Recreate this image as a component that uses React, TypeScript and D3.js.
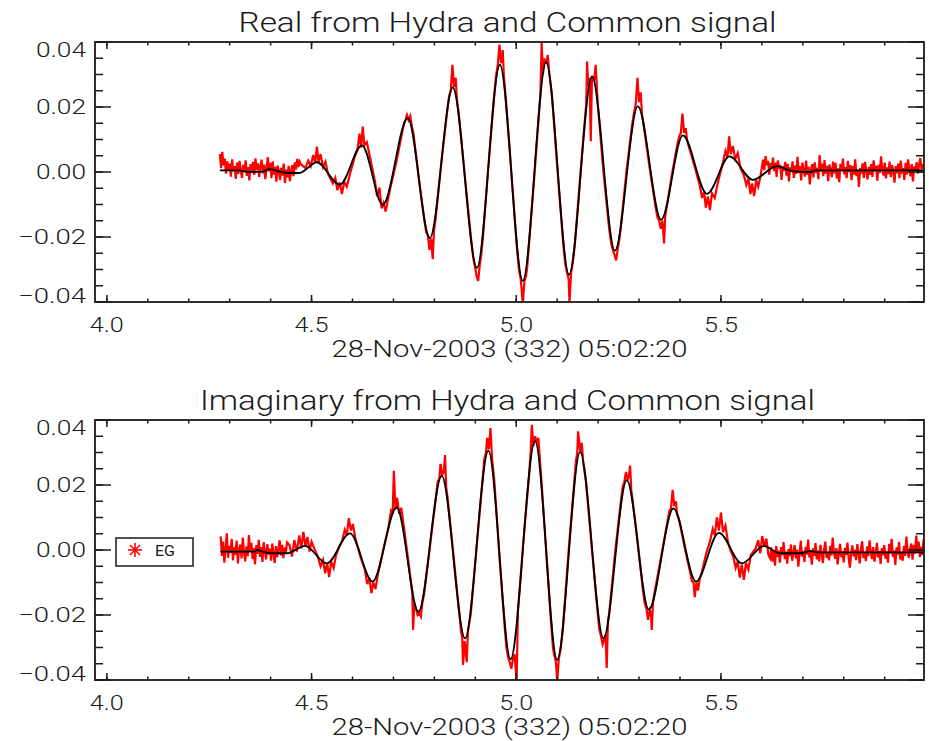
import React from "react";
import * as d3 from "d3";

const W = 929;
const H = 741;

// ---------- axis / text data ----------
const xDomain: [number, number] = [3.971, 5.996];
const yDomain: [number, number] = [-0.04, 0.04];
const xMajor = [4.0, 4.5, 5.0, 5.5];
const xTickLabels = ["4.0", "4.5", "5.0", "5.5"];
const yMajor = [-0.04, -0.02, 0.0, 0.02, 0.04];
const yTickLabels = ["\u22120.04", "\u22120.02", "0.00", "0.02", "0.04"];
const titles = ["Real from Hydra and Common signal", "Imaginary from Hydra and Common signal"];
const xTitle = "28-Nov-2003 (332) 05:02:20";
const legendLabel = "EG";

// ---------- Real (top) ----------
const blackReal: [number, number][] = [
  [4.276, 0.0005], [4.32, 0.0005], [4.345, 0.0], [4.38, 0.0001], [4.398, 0.0009], [4.42, 0.0002],
  [4.445, -0.0003], [4.47, -0.0003], [4.513, 0.003], [4.569, -0.0039], [4.623, 0.0082], [4.674, -0.0101],
  [4.735, 0.0166], [4.789, -0.0203], [4.845, 0.026], [4.904, -0.0295], [4.96, 0.033], [5.016, -0.0335],
  [5.073, 0.0338], [5.129, -0.0316], [5.185, 0.0294], [5.241, -0.0242], [5.297, 0.0202], [5.354, -0.0147],
  [5.407, 0.0113], [5.466, -0.0067], [5.521, 0.0048], [5.578, -0.0024], [5.637, 0.0018], [5.676, 0.0002],
  [5.72, 0.0], [5.73, 0.0005], [5.995, 0.0005],
];
const noiseStep = 0.003;
const redRealLeftStart = 4.276;
const redRealLeftNoise = [ // 1e-3 units
  5.5, 1.2, 6.2, 2.0, 4.1, -0.5, 3.3, 0.8, 2.6, -1.4, 3.9, 0.2, 1.8, -2.1, 2.9, -0.6, 3.4, 0.5, -1.8, 2.2,
  0.1, 3.6, -1.2, 1.5, -2.6, 2.4, 0.3, 3.1, -0.9, 4.2, 0.6, 2.7, -1.5, 1.9, 3.8, -0.4, 2.3, -2.2, 1.1, 4.6,
  0.2, 2.8, -1.9, 3.3, -0.8, 1.6, -3.0, 2.0, 0.4, -2.5, 1.3, -1.1, 2.6, -3.4, 0.7, -1.6, 1.9, -2.8, 0.3, 2.1,
  -1.3, 3.0, 0.8, 4.0, 1.5, 3.2, 2.4,
];
const redRealMid: [number, number][] = [
  [4.485, 0.0012], [4.492, 0.0035], [4.498, 0.0018], [4.504, 0.0052], [4.509, 0.0028], [4.513, 0.0078],
  [4.517, 0.0031], [4.522, 0.0055], [4.528, 0.0015], [4.534, 0.0032], [4.54, -0.0005],
  [4.552, -0.0035], [4.558, -0.0018], [4.563, -0.0056], [4.569, -0.0032], [4.574, -0.0068], [4.58, -0.003],
  [4.586, -0.0045], [4.594, -0.0005],
  [4.605, 0.0045], [4.612, 0.0068], [4.617, 0.0118], [4.621, 0.0075], [4.625, 0.014], [4.629, 0.0082],
  [4.635, 0.0092], [4.642, 0.005],
  [4.655, -0.003], [4.66, -0.0075], [4.666, -0.0048], [4.671, -0.0112], [4.676, -0.0095], [4.681, -0.0122],
  [4.687, -0.0082], [4.694, -0.004],
  [4.707, 0.003], [4.721, 0.012], [4.726, 0.015], [4.73, 0.0162], [4.733, 0.0176], [4.737, 0.016], [4.741, 0.0172], [4.745, 0.014], [4.749, 0.0118],
  [4.762, -0.002], [4.775, -0.0145], [4.78, -0.0185], [4.784, -0.0195], [4.788, -0.024], [4.792, -0.0205], [4.796, -0.0268], [4.799, -0.018], [4.803, -0.0145],
  [4.817, 0.003], [4.831, 0.0185], [4.836, 0.0235], [4.84, 0.025], [4.844, 0.033], [4.848, 0.0262], [4.852, 0.029], [4.855, 0.0225], [4.859, 0.0185],
  [4.875, -0.002], [4.89, -0.021], [4.895, -0.0265], [4.899, -0.029], [4.903, -0.032], [4.907, -0.0335], [4.911, -0.0285], [4.914, -0.026], [4.918, -0.021],
  [4.932, 0.002], [4.946, 0.0235], [4.951, 0.03], [4.955, 0.033], [4.959, 0.0392], [4.963, 0.0335], [4.967, 0.0375], [4.97, 0.029], [4.974, 0.0235],
  [4.988, 0.0], [5.002, -0.024], [5.007, -0.0305], [5.011, -0.033], [5.016, -0.0405], [5.02, -0.0335], [5.024, -0.032], [5.027, -0.029], [5.03, -0.024],
  [5.045, 0.0], [5.059, 0.024], [5.062, 0.0398], [5.065, 0.03], [5.069, 0.0345], [5.073, 0.0338], [5.077, 0.036], [5.081, 0.03], [5.087, 0.024],
  [5.101, 0.0], [5.115, -0.0225], [5.12, -0.0285], [5.124, -0.031], [5.128, -0.033], [5.13, -0.04], [5.134, -0.031], [5.138, -0.028], [5.143, -0.0225],
  [5.157, 0.0], [5.171, 0.021], [5.173, 0.034], [5.176, 0.0265], [5.179, 0.029], [5.182, 0.0095], [5.185, 0.0295], [5.19, 0.028], [5.194, 0.033], [5.199, 0.021],
  [5.213, 0.0], [5.227, -0.0175], [5.232, -0.022], [5.236, -0.024], [5.24, -0.0255], [5.244, -0.0272], [5.248, -0.0235], [5.251, -0.0215], [5.255, -0.0175],
  [5.269, 0.0], [5.283, 0.0145], [5.288, 0.0185], [5.292, 0.021], [5.296, 0.029], [5.3, 0.0215], [5.304, 0.0245], [5.307, 0.018], [5.311, 0.0145],
  [5.325, 0.002], [5.34, -0.0105], [5.345, -0.014], [5.349, -0.015], [5.353, -0.0175], [5.357, -0.015], [5.361, -0.022], [5.364, -0.0135], [5.368, -0.0105],
  [5.38, -0.001], [5.393, 0.0082], [5.398, 0.011], [5.402, 0.012], [5.406, 0.018], [5.41, 0.012], [5.414, 0.0135], [5.417, 0.01], [5.421, 0.008],
  [5.435, 0.002], [5.448, -0.004], [5.454, -0.008], [5.459, -0.006], [5.463, -0.011], [5.468, -0.0075], [5.473, -0.0117],
  [5.478, -0.0065], [5.485, -0.008], [5.492, -0.0035],
  [5.505, 0.003], [5.511, 0.0065], [5.516, 0.0045], [5.52, 0.011], [5.524, 0.0055], [5.529, 0.008], [5.535, 0.004],
  [5.541, 0.0058], [5.548, 0.001],
  [5.556, -0.001], [5.562, -0.004], [5.567, -0.002], [5.572, -0.0068], [5.576, -0.0035], [5.581, -0.0074],
  [5.586, -0.0025], [5.591, -0.0045], [5.597, -0.001],
];
const redRealRightStart = 5.6;
const redRealRightNoise = [
  1.5, 3.8, 0.6, 4.9, 2.1, 3.4, -0.8, 2.7, 1.2, 4.4, 0.3, 2.9, -1.5, 3.6, 1.0, 2.2, -2.4, 1.7, 0.4, 3.1,
  -1.1, 2.5, -2.9, 1.4, 0.2, 3.3, -1.8, 2.0, -0.6, 4.7, -0.3, 1.8, -2.6, 2.9, 0.5, -1.4, 3.5, -0.9, 1.6, -3.8,
  0.8, 2.4, -1.7, 3.0, -0.2, 1.3, -2.2, 5.2, 0.1, 2.6, -1.3, 3.7, -0.5, 1.9, -2.8, 2.3, 0.7, -1.6, 3.2, -0.4,
  2.8, -2.0, 1.1, -3.1, 2.5, 0.3, 4.1, -0.7, 1.5, -1.9, 3.4, 0.0, 2.1, -2.5, 1.8, -0.8, 3.9, -1.2, 0.6, -4.6,
  1.2, -0.5, 2.7, -1.8, 3.1, 0.4, -2.3, 1.6, -0.9, 2.4, -1.5, 3.6, 0.2, 1.9, -2.7, 2.2, -0.3, 4.8, 0.9, -1.1,
  2.9, -2.0, 1.4, -0.6, 3.2, -1.6, 2.1, 0.5, -3.3, 1.8, -0.4, 2.6, -1.9, 3.5, 0.3, 1.2, -2.4, 2.8, -0.8, 3.9,
  1.0, -1.3, 2.4, -2.9, 1.7, 0.6, 3.0, -0.5, 2.2, 4.3, 0.8, 2.5,
];

// ---------- Imaginary (bottom) ----------
const blackImag: [number, number][] = [
  [4.278, -0.0005], [4.36, -0.0005], [4.368, 0.0], [4.38, -0.0005], [4.405, -0.001], [4.44, -0.001],
  [4.484, 0.0013], [4.537, -0.0041], [4.594, 0.0051], [4.649, -0.0097], [4.708, 0.0131], [4.761, -0.019],
  [4.818, 0.0228], [4.875, -0.0272], [4.932, 0.0306], [4.986, -0.0336], [5.046, 0.0336], [5.1, -0.0338],
  [5.156, 0.0302], [5.213, -0.0272], [5.27, 0.0215], [5.324, -0.0183], [5.384, 0.0128], [5.439, -0.0097],
  [5.495, 0.0053], [5.551, -0.0041], [5.605, 0.0012], [5.645, -0.001], [5.695, -0.001], [5.718, -0.0003],
  [5.735, -0.0007], [5.995, -0.0007],
];
const redImagLeftStart = 4.278;
const redImagLeftNoise = [
  4.2, -1.8, 2.6, -3.9, 0.5, 5.1, -2.4, 1.3, -0.9, 3.4, -3.2, 0.8, -1.5, 2.9, -4.1, 0.2, 1.7, -2.6, 3.8, -0.7,
  -3.5, 1.1, -1.9, 4.6, -0.3, 2.2, -2.8, 0.6, -4.4, 1.5, -1.2, 3.1, -2.1, 0.9, -3.7, 2.4, -0.5, -2.9, 1.8, -1.4,
  0.4, -3.3, 2.0, -1.0, -4.0, 1.2, -2.2, 0.3, 3.0, -1.7, 1.6, -2.5, 0.7, -0.9, 2.3,
];
const redImagMid: [number, number][] = [
  [4.446, 0.0015], [4.452, -0.002], [4.458, 0.003], [4.464, -0.0005], [4.47, 0.0045], [4.475, 0.0005],
  [4.48, 0.0056], [4.485, 0.0012], [4.49, 0.004], [4.495, -0.0005], [4.5, 0.0025],
  [4.508, 0.0], [4.515, -0.002], [4.522, -0.005], [4.528, -0.003], [4.533, -0.0072], [4.538, -0.004], [4.543, -0.0083],
  [4.548, -0.0035], [4.554, -0.0055], [4.56, -0.0015],
  [4.567, 0.0008], [4.575, 0.003], [4.581, 0.0062], [4.586, 0.0045], [4.591, 0.0098], [4.596, 0.006], [4.601, 0.008], [4.607, 0.0035],
  [4.619, -0.002], [4.63, -0.006], [4.636, -0.0105], [4.641, -0.0085], [4.646, -0.0133], [4.651, -0.01], [4.656, -0.012], [4.662, -0.0075],
  [4.675, 0.0], [4.688, 0.007], [4.694, 0.012], [4.698, 0.011], [4.701, 0.0244], [4.705, 0.0125], [4.709, 0.016], [4.714, 0.0112],
  [4.719, 0.013], [4.724, 0.0085],
  [4.735, -0.002], [4.746, -0.013], [4.748, -0.0246], [4.751, -0.0165], [4.755, -0.018], [4.759, -0.02], [4.763, -0.0195],
  [4.767, -0.0205], [4.771, -0.016], [4.775, -0.0135],
  [4.79, 0.002], [4.804, 0.0165], [4.808, 0.021], [4.812, 0.022], [4.815, 0.0265], [4.819, 0.0232], [4.823, 0.024], [4.826, 0.0292], [4.829, 0.019], [4.832, 0.0165],
  [4.847, -0.002], [4.861, -0.0195], [4.865, -0.025], [4.868, -0.027], [4.87, -0.0354], [4.874, -0.028], [4.879, -0.0345], [4.882, -0.025], [4.889, -0.0195],
  [4.904, 0.002], [4.918, 0.022], [4.922, 0.028], [4.926, 0.03], [4.929, 0.0345], [4.933, 0.031], [4.937, 0.0375], [4.941, 0.028], [4.946, 0.022],
  [4.959, -0.002], [4.972, -0.024], [4.976, -0.03], [4.98, -0.033], [4.984, -0.0345], [4.988, -0.0365], [4.992, -0.0335], [4.996, -0.032], [5.001, -0.0405], [5.004, -0.019],
  [5.017, 0.002], [5.032, 0.024], [5.035, 0.03], [5.038, 0.0385], [5.042, 0.032], [5.046, 0.035], [5.05, 0.033], [5.054, 0.0345], [5.06, 0.024],
  [5.073, 0.0], [5.086, -0.024], [5.09, -0.0305], [5.094, -0.033], [5.097, -0.0345], [5.1, -0.0405], [5.104, -0.0335], [5.109, -0.03], [5.114, -0.024],
  [5.128, 0.0], [5.142, 0.0215], [5.146, 0.0275], [5.149, 0.03], [5.151, 0.0365], [5.156, 0.0305], [5.16, 0.033], [5.164, 0.0265], [5.17, 0.0215],
  [5.185, 0.0], [5.199, -0.0195], [5.203, -0.0245], [5.207, -0.0265], [5.211, -0.029], [5.215, -0.0275], [5.218, -0.026], [5.221, -0.0363], [5.224, -0.022], [5.227, -0.0195],
  [5.242, 0.0], [5.256, 0.0155], [5.26, 0.0195], [5.264, 0.021], [5.268, 0.024], [5.272, 0.0218], [5.275, 0.0225], [5.278, 0.026], [5.281, 0.0185], [5.284, 0.0155],
  [5.297, 0.002], [5.31, -0.013], [5.314, -0.0165], [5.318, -0.018], [5.322, -0.0215], [5.326, -0.0185], [5.329, -0.0195], [5.331, -0.0246], [5.334, -0.016], [5.338, -0.013],
  [5.354, -0.002], [5.37, 0.0092], [5.374, 0.012], [5.378, 0.0128], [5.382, 0.0185], [5.386, 0.0135], [5.39, 0.015], [5.393, 0.011], [5.398, 0.0092],
  [5.411, 0.001], [5.425, -0.007], [5.429, -0.0095], [5.433, -0.01], [5.436, -0.0145], [5.44, -0.01], [5.444, -0.0125], [5.448, -0.009], [5.453, -0.007],
  [5.464, -0.001], [5.474, 0.003], [5.48, 0.0065], [5.485, 0.0045], [5.49, 0.01], [5.495, 0.006], [5.5, 0.0115], [5.505, 0.0055],
  [5.511, 0.0075], [5.517, 0.0025],
  [5.523, 0.0], [5.53, -0.002], [5.536, -0.0055], [5.541, -0.0035], [5.546, -0.0085], [5.551, -0.0045], [5.556, -0.0092],
  [5.561, -0.004], [5.567, -0.006], [5.573, -0.0015],
  [5.585, 0.0005], [5.591, 0.003], [5.596, -0.001], [5.601, 0.0043], [5.606, 0.001], [5.611, 0.0035], [5.616, -0.0015],
];
const redImagRightStart = 5.62;
const redImagRightNoise = [
  -2.5, 0.8, -3.6, -0.4, -4.8, 1.2, -2.1, -0.2, -3.9, 0.9, -1.6, 2.4, -2.8, -0.5, -4.2, 0.3, -1.9, 1.7, -3.3, -0.8,
  1.5, -2.6, 0.1, -5.1, -1.2, 2.9, -2.0, -0.3, -3.7, 1.0, -1.4, 3.2, -2.3, -0.6, -4.5, 0.5, -1.8, 2.1, -2.9, -0.1,
  -3.5, 1.6, -1.0, -4.0, 0.2, 2.6, -2.4, -0.7, -3.2, 1.3, -1.7, 3.8, -0.9, -2.7, 0.6, -4.4, -1.3, 1.9, -2.2, -0.4,
  -3.8, 0.7, -1.5, 2.3, -2.6, -5.4, -0.8, 1.4, -2.0, 0.0, -3.1, 1.8, -1.1, -4.1, 0.4, 2.7, -2.5, -0.6, -3.4, 1.1,
  -1.9, 3.0, -0.7, -2.8, 0.9, -3.6, -1.2, 2.2, -2.3, -0.3, -4.3, 0.6, -1.6, 1.5, -2.7, -0.5, -3.9, 1.9, -1.0, 3.4,
  -2.1, -0.2, -4.6, 0.8, -1.4, 2.5, -2.9, -0.9, -3.3, 1.2, -1.8, 4.1, -0.6, -2.4, 0.3, 2.0, -3.0, 1.6, -1.1, 4.4,
  -0.8, 2.6, -2.2, 1.0, -1.5, 3.3,
];

function noiseSeries(start: number, vals: number[]): [number, number][] {
  return vals.map((v, i) => [start + i * noiseStep, v / 1000]);
}

const redReal: [number, number][] = [
  ...noiseSeries(redRealLeftStart, redRealLeftNoise),
  ...redRealMid,
  ...noiseSeries(redRealRightStart, redRealRightNoise),
];
const redImag: [number, number][] = [
  ...noiseSeries(redImagLeftStart, redImagLeftNoise),
  ...redImagMid,
  ...noiseSeries(redImagRightStart, redImagRightNoise),
];

const FONT = 'Roboto, "DejaVu Sans", sans-serif';
const INK = "#1a1a1a";

type PanelProps = {
  top: number;
  title: string;
  titleWidth: number;
  red: [number, number][];
  black: [number, number][];
  id: string;
  legend?: boolean;
};

const L = 95, R = 924, PH = 260;

function Panel({ top, title, titleWidth, red, black, id, legend }: PanelProps) {
  const bottom = top + PH;
  const x = d3.scaleLinear().domain(xDomain).range([L, R]);
  const y = d3.scaleLinear().domain(yDomain).range([bottom, top]);
  const redLine = d3
    .line<[number, number]>()
    .x((d) => x(d[0]))
    .y((d) => y(d[1]))
    .curve(d3.curveLinear);
  const blackLine = d3
    .line<[number, number]>()
    .x((d) => x(d[0]))
    .y((d) => y(d[1]))
    .curve(d3.curveMonotoneX);
  const xMinor = x.ticks(20);
  const yMinor = y.ticks(16);
  const cx = (L + R) / 2;
  const labelW = (s: string) => (s.length >= 5 ? 68 : 50);
  return (
    <g>
      <defs>
        <clipPath id={id}>
          <rect x={L} y={top} width={R - L} height={PH} />
        </clipPath>
      </defs>
      <g clipPath={`url(#${id})`}>
        <path d={redLine(red) || ""} fill="none" stroke="#ff0000" strokeWidth={2.2} strokeLinejoin="miter" />
        <path d={blackLine(black) || ""} fill="none" stroke="#000" strokeWidth={1.8} strokeLinejoin="round" />
      </g>
      {/* frame */}
      <rect x={L} y={top} width={R - L} height={PH} fill="none" stroke={INK} strokeWidth={1.8} />
      {/* x ticks */}
      {xMinor.map((t) => (
        <g key={"xm" + t}>
          <line x1={x(t)} x2={x(t)} y1={bottom} y2={bottom - 3.5} stroke={INK} strokeWidth={1.5} />
          <line x1={x(t)} x2={x(t)} y1={top} y2={top + 3.5} stroke={INK} strokeWidth={1.5} />
        </g>
      ))}
      {xMajor.map((t, i) => (
        <g key={"xM" + t}>
          <line x1={x(t)} x2={x(t)} y1={bottom} y2={bottom - 7} stroke={INK} strokeWidth={1.5} />
          <line x1={x(t)} x2={x(t)} y1={top} y2={top + 7} stroke={INK} strokeWidth={1.5} />
          <text
            x={x(t)}
            y={bottom + 30}
            textAnchor="middle"
            fontFamily={FONT}
            fontWeight={300}
            fontSize={20}
            fill={INK}
            textLength={34}
            lengthAdjust="spacingAndGlyphs"
          >
            {xTickLabels[i]}
          </text>
        </g>
      ))}
      {/* y ticks */}
      {yMinor.map((v) => (
        <g key={"ym" + v}>
          <line x1={L} x2={L + 8} y1={y(v)} y2={y(v)} stroke={INK} strokeWidth={1.5} />
          <line x1={R} x2={R - 8} y1={y(v)} y2={y(v)} stroke={INK} strokeWidth={1.5} />
        </g>
      ))}
      {yMajor.map((v, i) => {
        const base = Math.max(top + 15, Math.min(bottom + 1, y(v) + 7));
        return (
          <g key={"yM" + v}>
            <line x1={L} x2={L + 16} y1={y(v)} y2={y(v)} stroke={INK} strokeWidth={1.5} />
            <line x1={R} x2={R - 16} y1={y(v)} y2={y(v)} stroke={INK} strokeWidth={1.5} />
            <text
              x={86}
              y={base}
              textAnchor="end"
              fontFamily={FONT}
              fontWeight={300}
              fontSize={20}
              fill={INK}
              textLength={labelW(yTickLabels[i])}
              lengthAdjust="spacingAndGlyphs"
            >
              {yTickLabels[i]}
            </text>
          </g>
        );
      })}
      {/* title */}
      <text
        x={cx - 2}
        y={top - 10.5}
        textAnchor="middle"
        fontFamily={FONT}
        fontWeight={300}
        fontSize={27}
        fill={INK}
        textLength={titleWidth}
        lengthAdjust="spacingAndGlyphs"
      >
        {title}
      </text>
      {/* x title */}
      <text
        x={cx}
        y={bottom + 55}
        textAnchor="middle"
        fontFamily={FONT}
        fontWeight={300}
        fontSize={23}
        fill={INK}
        textLength={356}
        lengthAdjust="spacingAndGlyphs"
      >
        {xTitle}
      </text>
      {legend && (
        <g>
          <rect x={116} y={538} width={77} height={28} fill="#fff" stroke={INK} strokeWidth={1.5} />
          <g stroke="#ff0000" strokeWidth={1.6}>
            <line x1={135} x2={135} y1={543} y2={557} />
            <line x1={128} x2={142} y1={550} y2={550} />
            <line x1={130} x2={140} y1={545} y2={555} />
            <line x1={130} x2={140} y1={555} y2={545} />
          </g>
          <text
            x={155}
            y={556}
            fontFamily={FONT}
            fontSize={14}
            fill={INK}
            textLength={20}
            lengthAdjust="spacingAndGlyphs"
          >
            {legendLabel}
          </text>
        </g>
      )}
    </g>
  );
}

export default function App() {
  return (
    <svg
      width={W}
      height={H}
      viewBox={`0 0 ${W} ${H}`}
      style={{ position: "absolute", left: 0, top: 0, background: "#fff" }}
    >
      <rect x={0} y={0} width={W} height={H} fill="#fff" />
      <Panel top={42} title={titles[0]} titleWidth={538} red={redReal} black={blackReal} id="clipTop" />
      <Panel top={420} title={titles[1]} titleWidth={615} red={redImag} black={blackImag} id="clipBot" legend />
    </svg>
  );
}
